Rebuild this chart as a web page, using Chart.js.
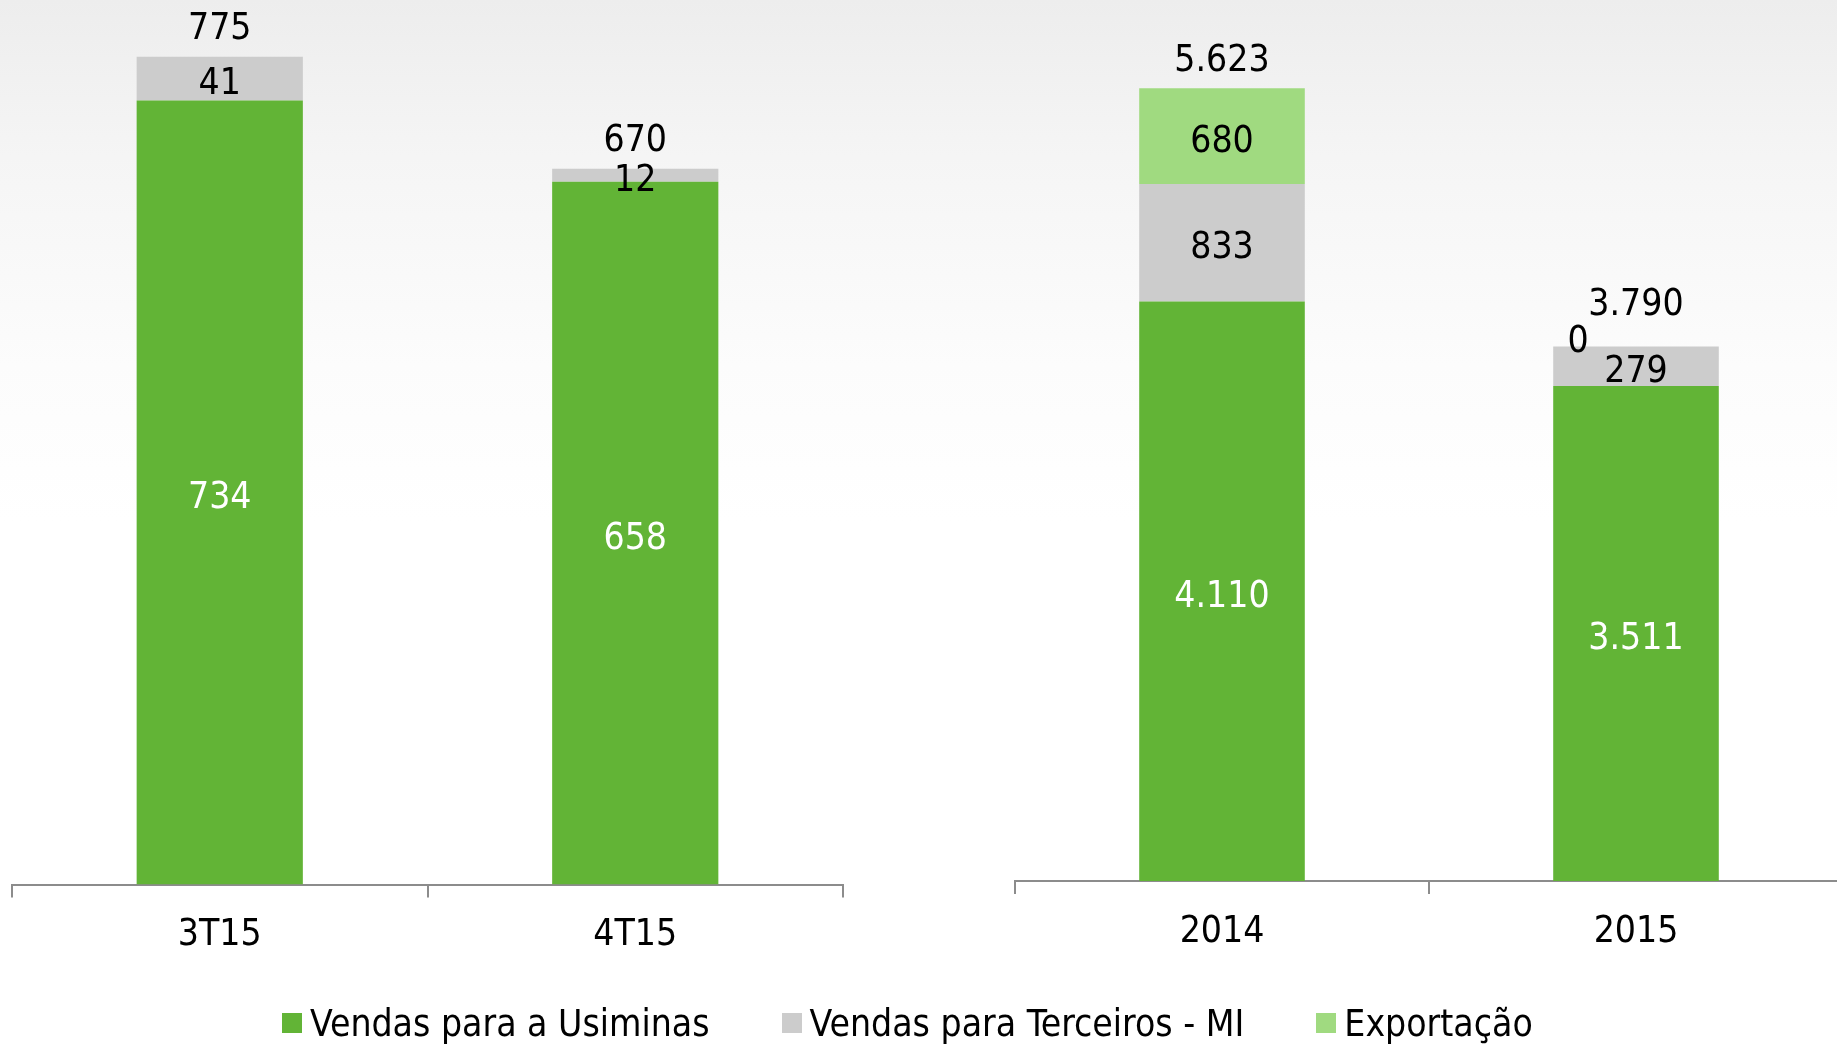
<!DOCTYPE html>
<html>
<head>
<meta charset="utf-8">
<script src="https://cdn.jsdelivr.net/npm/chart.js@4.4.0/dist/chart.umd.min.js"></script>
<style>
html,body{margin:0;padding:0;width:1837px;height:1044px;overflow:hidden;
  background:linear-gradient(180deg,#ededed 0%,#f5f5f5 15%,#fcfcfc 35%,#ffffff 50%,#ffffff 100%);
  font-family:'Liberation Sans Narrow','DejaVu Sans Condensed',sans-serif;}
#c1wrap{position:absolute;left:0;top:0;width:860px;height:1000px;}
#c2wrap{position:absolute;left:900px;top:0;width:950px;height:1000px;}
#legend{position:absolute;left:282px;top:998px;height:50px;display:flex;align-items:center;white-space:nowrap;}
#legend .item{display:flex;align-items:center;margin-right:72px;font-size:37px;color:#000;}
#legend .box{width:20px;height:20px;margin-right:8px;}
</style>
</head>
<body>
<div id="c1wrap"><canvas id="c1"></canvas></div>
<div id="c2wrap"><canvas id="c2"></canvas></div>
<div id="legend"></div>
<script>
// ---- data ----
const quarterLabels = ['3T15', '4T15'];
const yearLabels = ['2014', '2015'];
const seriesNames = ['Vendas para a Usiminas', 'Vendas para Terceiros - MI', 'Exportação'];
const usiminasQ = [734, 658];
const terceirosQ = [41, 12];
const usiminasY = [4110, 3511];
const terceirosY = [833, 279];
const exportY = [680, 0];

// ---- styles ----
const colors = ['#62b436', '#cccccc', '#a0da80'];
const labelColors = ['#ffffff', '#000000', '#000000'];
const FONT = "'Liberation Sans Narrow','DejaVu Sans Condensed',sans-serif";
const FS = 37;

function fmt(v) { return String(v).replace(/\B(?=(\d{3})+(?!\d))/g, '.'); }

const labelPlugin = {
  id: 'stackLabels',
  afterDatasetsDraw(chart) {
    const ctx = chart.ctx;
    ctx.save();
    ctx.font = FS + 'px ' + FONT;
    ctx.textAlign = 'center';
    ctx.textBaseline = 'middle';
    const n = chart.data.labels.length;
    for (let j = 0; j < n; j++) {
      let top = Infinity, total = 0, hasZero = false, cx = 0;
      chart.data.datasets.forEach((ds, i) => {
        const bar = chart.getDatasetMeta(i).data[j];
        const v = ds.data[j];
        total += v;
        cx = bar.x;
        top = Math.min(top, bar.y);
        if (v === 0) {
          hasZero = true;
          ctx.fillStyle = '#000';
          ctx.fillText(fmt(v), bar.x - 58, bar.y - 4);
        } else {
          ctx.fillStyle = labelColors[i];
          ctx.fillText(fmt(v), bar.x, (bar.y + bar.base) / 2 + 6);
        }
      });
      ctx.fillStyle = '#000';
      ctx.fillText(fmt(total), cx, top - (hasZero ? 41 : 27));
    }
    ctx.restore();
  }
};

function makeChart(id, labels, datasets, yMax, pad, xHeight) {
  return new Chart(document.getElementById(id), {
    type: 'bar',
    data: { labels: labels, datasets: datasets },
    options: {
      responsive: true,
      maintainAspectRatio: false,
      animation: false,
      layout: { padding: pad },
      plugins: { legend: { display: false }, tooltip: { enabled: false } },
      datasets: { bar: { categoryPercentage: 1, barPercentage: 0.4, borderWidth: 0 } },
      scales: {
        x: {
          stacked: true,
          grid: { display: true, drawOnChartArea: false, drawTicks: true, tickLength: 13, color: '#8c8c8c', lineWidth: 2, offset: true },
          border: { display: true, color: '#8c8c8c', width: 2 },
          ticks: { color: '#000', font: { size: FS, family: FONT }, padding: 16 },
          afterFit(s) { s.height = xHeight; }
        },
        y: { stacked: true, display: false, min: 0, max: yMax }
      }
    },
    plugins: [labelPlugin]
  });
}

makeChart('c1', quarterLabels, [
  { label: seriesNames[0], data: usiminasQ, backgroundColor: colors[0] },
  { label: seriesNames[1], data: terceirosQ, backgroundColor: colors[1] }
], 800, { left: 12, right: 17, top: 30, bottom: 0 }, 115.5);

makeChart('c2', yearLabels, [
  { label: seriesNames[0], data: usiminasY, backgroundColor: colors[0] },
  { label: seriesNames[1], data: terceirosY, backgroundColor: colors[1] },
  { label: seriesNames[2], data: exportY, backgroundColor: colors[2] }
], 6000, { left: 115, right: 7, top: 35, bottom: 0 }, 119);

// legend
const lg = document.getElementById('legend');
seriesNames.forEach((name, i) => {
  const it = document.createElement('div'); it.className = 'item';
  const b = document.createElement('div'); b.className = 'box'; b.style.background = colors[i];
  const t = document.createElement('span'); t.textContent = name;
  it.appendChild(b); it.appendChild(t); lg.appendChild(it);
});
</script>
</body>
</html>
